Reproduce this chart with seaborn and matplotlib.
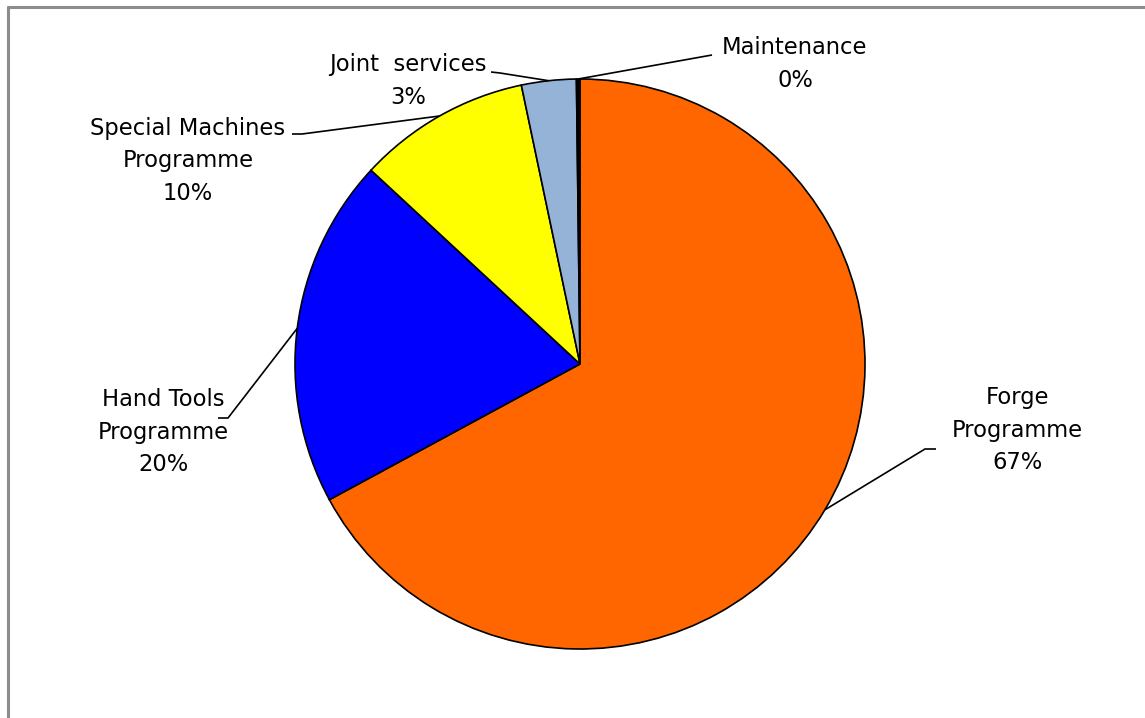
import matplotlib
matplotlib.use("Agg")
import matplotlib.pyplot as plt
import seaborn as sns
import numpy as np

# Budget shares by programme
categories = ["Forge\nProgramme", "Hand Tools\nProgramme", "Special Machines\nProgramme",
              "Joint  services", "Maintenance"]
values = [67.1, 19.8, 9.8, 3.1, 0.2]
colors = ["#FF6600", "#0000FF", "#FFFF00", "#95B3D7", "#000000"]

sns.set_theme(style="white")
plt.rcParams["font.family"] = ["DejaVu Sans"]

W, H = 1145, 718
fig = plt.figure(figsize=(W / 100, H / 100), dpi=100)
ax = fig.add_axes([0, 0, 1, 1])
ax.set_xlim(0, W)
ax.set_ylim(0, H)
ax.set_aspect("equal")
ax.axis("off")


def Y(y):
    # pixel row measured from the top -> data y
    return H - y


cx, cy, r = 580, 364, 285
wedges, _ = ax.pie(values, colors=colors, startangle=90, counterclock=False,
                   center=(cx, Y(cy)), radius=r,
                   wedgeprops=dict(edgecolor="black", linewidth=1.2))
ax.set_xlim(0, W)
ax.set_ylim(0, H)

# label text centre, elbow of leader line, horizontal end of leader line
label_layout = [
    dict(text=(1017, 430), elbow=(925, 449), end=(936, 449)),
    dict(text=(163, 432), elbow=(228, 418), end=(218, 418)),
    dict(text=(188, 161), elbow=(302, 134), end=(292, 134)),
    dict(text=(408, 81), elbow=(500, 73), end=(491, 72)),
    dict(text=(795, 64), elbow=(712, 55), end=(712, 55)),
]

total = sum(values)
for w, cat, val, lay in zip(wedges, categories, values, label_layout):
    mid = np.deg2rad((w.theta1 + w.theta2) / 2)
    ax_pt = (cx + r * np.cos(mid), Y(cy) + r * np.sin(mid))
    pct = round(val / total * 100)
    tx, ty = lay["text"]
    ax.text(tx, Y(ty), f"{cat}\n{pct}%", ha="center", va="center",
            fontsize=16.3, linespacing=1.55, color="black")
    ex, ey = lay["elbow"]
    hx, hy = lay["end"]
    ax.plot([ax_pt[0], ex, hx], [ax_pt[1], Y(ey), Y(hy)], color="black", lw=1.2,
            solid_capstyle="butt")

# chart frame (top and left edges)
ax.plot([7.5, W], [Y(7), Y(7)], color="#8C8C8C", lw=2.2, clip_on=False)
ax.plot([7.5, 7.5], [Y(7), 0], color="#8C8C8C", lw=2.2, clip_on=False)

fig.savefig("out.png", dpi=100, facecolor="white")
